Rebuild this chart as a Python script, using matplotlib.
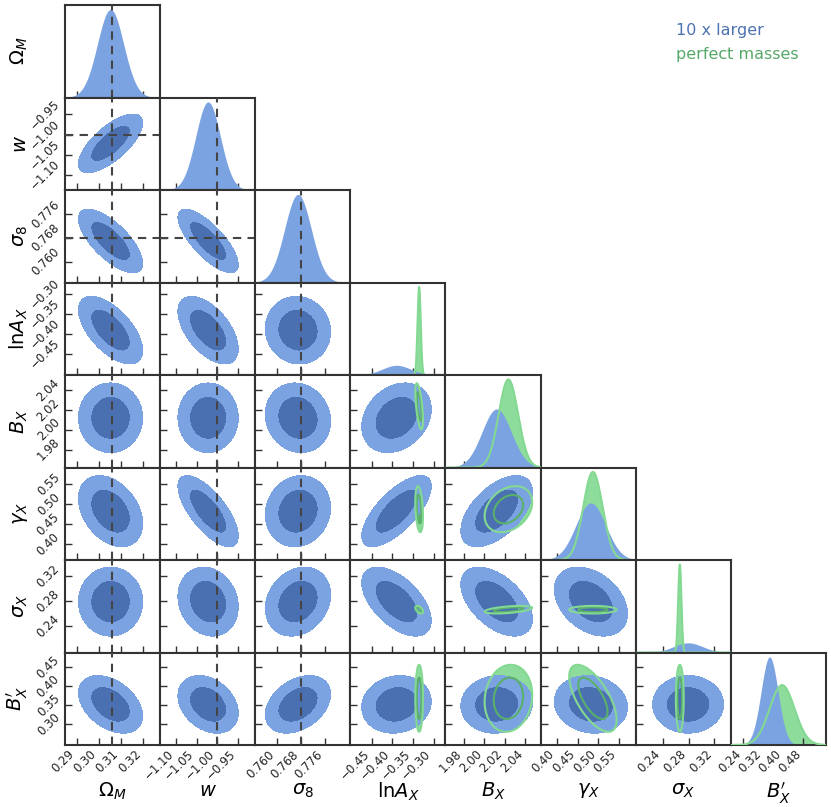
import numpy as np
import matplotlib
matplotlib.use("Agg")
import matplotlib.pyplot as plt
from matplotlib.ticker import FixedLocator, FixedFormatter

# parameter names, axis ranges and ticks
labels = [r"$\Omega_M$", r"$w$", r"$\sigma_8$", r"$\mathrm{ln}A_X$",
          r"$B_X$", r"$\gamma_X$", r"$\sigma_X$", r"$B^{\prime}_X$"]
extents = [(0.2847, 0.3275), (-1.138, -0.908), (0.7529, 0.7843), (-0.502, -0.271),
           (1.962, 2.055), (0.360, 0.591), (0.197, 0.346), (0.245, 0.4885)]
ticks = [[0.29, 0.30, 0.31, 0.32], [-1.10, -1.05, -1.00, -0.95],
         [0.760, 0.768, 0.776], [-0.45, -0.40, -0.35, -0.30],
         [1.98, 2.00, 2.02, 2.04], [0.40, 0.45, 0.50, 0.55],
         [0.24, 0.28, 0.32], [0.30, 0.35, 0.40, 0.45]]
tick_fmt = ["{:.2f}", "{:.2f}", "{:.3f}", "{:.2f}", "{:.2f}", "{:.2f}", "{:.2f}", "{:.2f}"]
# the B'_X diagonal panel has its own range
diag_last_extent = (0.19, 0.571)
diag_last_ticks = [0.24, 0.32, 0.40, 0.48]

truth = [0.306, -1.0, 0.768, None, None, None, None, None]

# "10 x larger" chain (blue)
blue_mean = [0.3052, -1.022, 0.767, -0.39, 2.012, 0.482, 0.279, 0.352]
blue_sd = [0.0059, 0.0298, 0.0044, 0.0345, 0.0143, 0.0363, 0.0227, 0.031]
blue_rho = [
    [],
    [0.7],
    [-0.7, -0.75],
    [-0.6, -0.55, -0.05],
    [0.0, 0.0, -0.1, 0.25],
    [-0.35, -0.7, 0.1, 0.7, 0.55],
    [0.0, -0.15, 0.2, -0.55, -0.5, -0.35],
    [-0.4, -0.3, 0.35, 0.1, 0.05, -0.1, 0.0],
]
# "perfect masses" chain (green), only X parameters
green_mean = [None, None, None, -0.335, 2.0235, 0.487, 0.266, 0.368]
green_sd = [None, None, None, 0.0038, 0.0095, 0.0235, 0.0025, 0.036]
green_rho = [
    [], [], [], [],
    [None, None, None, -0.6],
    [None, None, None, -0.3, 0.3],
    [None, None, None, -0.5, 0.5, 0.0],
    [None, None, None, 0.0, 0.1, -0.65, 0.0],
]
# 1D B'_X marginals
diag_last_blue = (0.345, 0.034)
diag_last_green = (0.395, 0.05)

blue_light, blue_dark = "#7ba3e2", "#4a70b2"
green_light, green_dark = "#8ddc9b", "#5db56e"
green_line_out, green_line_in = "#84d992", "#5aaf6b"
edge = "#333333"

lev = [0.0, -2 * np.log(0.32), -2 * np.log(0.05)]
n = len(labels)


def chi2_grid(xr, yr, mx, my, sx, sy, r):
    x = np.linspace(xr[0], xr[1], 300)
    y = np.linspace(yr[0], yr[1], 300)
    X, Y = np.meshgrid(x, y)
    dx = (X - mx) / sx
    dy = (Y - my) / sy
    return X, Y, (dx ** 2 - 2 * r * dx * dy + dy ** 2) / (1 - r ** 2)


def gauss(x, m, s):
    return np.exp(-0.5 * ((x - m) / s) ** 2) / s


def fmt(v, f):
    return f.format(v).replace("-", "\u2212")


fig, axes = plt.subplots(n, n, figsize=(8.31, 8.07), dpi=100)
plt.subplots_adjust(left=0.0782, right=0.994, bottom=0.0768, top=0.9938,
                    wspace=0, hspace=0)

for i in range(n):
    for j in range(n):
        ax = axes[i, j]
        if j > i:
            ax.axis("off")
            continue
        xr = extents[j]
        xt = ticks[j]
        if i == j:
            if i == n - 1:
                xr = diag_last_extent
                xt = diag_last_ticks
            x = np.linspace(xr[0], xr[1], 500)
            if i == n - 1:
                pb = gauss(x, *diag_last_blue)
                pg = gauss(x, *diag_last_green)
            else:
                pb = gauss(x, blue_mean[i], blue_sd[i])
                pg = gauss(x, green_mean[i], green_sd[i]) if green_mean[i] is not None else None
            top = pb.max()
            if pg is not None:
                top = max(top, pg.max())
                ax.fill_between(x, pg, color=green_light, lw=0, zorder=1)
                ax.plot(x, pg, color=green_line_out, lw=1.5, zorder=3)
            ax.fill_between(x, pb, color=blue_light, lw=0, zorder=2)
            ax.set_ylim(0, top * 1.05)
            ax.set_yticks([])
            if truth[i] is not None:
                ax.axvline(truth[i], color="#444444", ls="--", lw=1.5, dashes=(4, 3), zorder=4)
        else:
            yr = extents[i]
            X, Y, C = chi2_grid(xr, yr, blue_mean[j], blue_mean[i],
                                blue_sd[j], blue_sd[i], blue_rho[i][j])
            ax.contourf(X, Y, C, levels=lev, colors=[blue_dark, blue_light], zorder=2)
            if green_mean[i] is not None and green_mean[j] is not None:
                X, Y, C = chi2_grid(xr, yr, green_mean[j], green_mean[i],
                                    green_sd[j], green_sd[i], green_rho[i][j])
                ax.contourf(X, Y, C, levels=lev, colors=[green_dark, green_light], zorder=1)
                ax.contour(X, Y, C, levels=lev[1:], colors=[green_line_in, green_line_out],
                           linewidths=1.5, zorder=3)
            ax.set_ylim(yr)
            ax.yaxis.set_major_locator(FixedLocator(ticks[i]))
            if j == 0:
                ax.yaxis.set_major_formatter(FixedFormatter([fmt(v, tick_fmt[i]) for v in ticks[i]]))
            else:
                ax.set_yticklabels([])
            if truth[j] is not None:
                ax.axvline(truth[j], color="#444444", ls="--", lw=1.5, dashes=(4, 3), zorder=4)
            if truth[i] is not None:
                ax.axhline(truth[i], color="#444444", ls="--", lw=1.5, dashes=(4, 3), zorder=4)

        ax.set_xlim(xr)
        ax.xaxis.set_major_locator(FixedLocator(xt))
        if i == n - 1:
            ax.xaxis.set_major_formatter(FixedFormatter([fmt(v, tick_fmt[j]) for v in xt]))
            ax.set_xlabel(labels[j], fontsize=14)
            ax.xaxis.set_label_coords(0.5, -0.385)
        else:
            ax.set_xticklabels([])
        if j == 0:
            ax.set_ylabel(labels[i], fontsize=14)
            ax.yaxis.set_label_coords(-0.37, 0.5)

        ax.tick_params(direction="in", length=5, width=1, color=edge,
                       labelsize=8.5, labelcolor="#222222", pad=2)
        for lab in ax.get_xticklabels():
            lab.set_rotation(45)
            lab.set_ha("right")
            lab.set_va("top")
        for lab in ax.get_yticklabels():
            lab.set_rotation(45)
            lab.set_ha("right")
            lab.set_va("center")
        for sp in ax.spines.values():
            sp.set_linewidth(1.5)
            sp.set_color(edge)

fig.text(0.8135, 0.9628, "10 x larger", color="#4c72b0", fontsize=11.5, va="center")
fig.text(0.8135, 0.9325, "perfect masses", color="#55a868", fontsize=11.5, va="center")

fig.savefig("out.png", dpi=100)
